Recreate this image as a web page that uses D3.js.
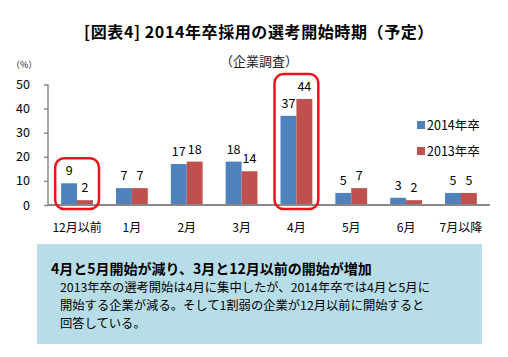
<!DOCTYPE html>
<html><head><meta charset="utf-8">
<script src="https://cdn.jsdelivr.net/npm/d3@7"></script>
<style>
body{margin:0;background:#fff;}
svg{display:block;font-family:"Noto Sans CJK JP","Noto Sans",sans-serif;}
</style></head>
<body>
<svg id="c" width="508" height="357"></svg>
<script>
const categories = ["12月以前","1月","2月","3月","4月","5月","6月","7月以降"];
const seriesNames = ["2014年卒","2013年卒"];
const values2014 = [9,7,17,18,37,5,3,5];
const values2013 = [2,7,18,14,44,7,2,5];
const yTicks = [0,10,20,30,40,50];
const highlighted = ["12月以前","4月"];
const titleText = "[図表4] 2014年卒採用の選考開始時期（予定）";
const subtitleText = "（企業調査）";
const unitText = "（%）";
const noteHeading = "4月と5月開始が減り、3月と12月以前の開始が増加";
const noteLines = ["2013年卒の選考開始は4月に集中したが、2014年卒では4月と5月に",
  "開始する企業が減る。そして1割弱の企業が12月以前に開始すると",
  "回答している。"];
const colors = ["#4f81bd","#c0504d"];

const svg = d3.select("#c");
const x0 = d3.scaleBand().domain(categories).range([48,490]).paddingInner(0.42).paddingOuter(0.24);
const x1 = d3.scaleBand().domain(seriesNames).range([0,x0.bandwidth()]);
const y = d3.scaleLinear().domain([0,50]).range([205,84.5]);

svg.append("text").attr("x",259).attr("y",38).attr("text-anchor","middle")
  .attr("font-size",16).attr("letter-spacing",0.6).attr("font-weight","bold").attr("fill","#000").text(titleText);
svg.append("text").attr("x",259).attr("y",66).attr("text-anchor","middle")
  .attr("font-size",13).attr("fill","#222").text(subtitleText);
svg.append("text").attr("x",11).attr("y",68)
  .attr("font-size",9).attr("fill","#222").text(unitText);

// y axis
const yAxis = svg.append("g").attr("transform","translate(48,0)")
  .call(d3.axisLeft(y).tickValues(yTicks).tickSize(4).tickPadding(14));
yAxis.selectAll("path,line").attr("stroke","#888").attr("stroke-width",1.5);
yAxis.select(".domain").attr("d","M0,"+y(50)+"V"+y(0));
yAxis.selectAll("text").attr("font-size",12.5).attr("fill","#000")
  .attr("font-family","'Noto Sans CJK JP',sans-serif");

const data = categories.map((c,i)=>({c, v:[values2014[i],values2013[i]]}));
const groups = svg.append("g").selectAll("g").data(data).join("g")
  .attr("transform",d=>`translate(${x0(d.c)},0)`);
groups.selectAll("rect").data(d=>d.v.map((v,j)=>({v,s:seriesNames[j],j}))).join("rect")
  .attr("x",d=>x1(d.s)).attr("width",x1.bandwidth())
  .attr("y",d=>y(d.v)).attr("height",d=>y(0)-y(d.v)).attr("fill",d=>colors[d.j]);
groups.selectAll("text").data(d=>d.v.map((v,j)=>({v,s:seriesNames[j],j}))).join("text")
  .attr("x",d=>x1(d.s)+x1.bandwidth()/2).attr("y",d=>y(d.v)-8)
  .attr("text-anchor","middle").attr("font-size",12.5).attr("fill","#000").text(d=>d.v);

// x axis
const xAxis = svg.append("g").attr("transform",`translate(0,${y(0)})`)
  .call(d3.axisBottom(x0).tickSize(0).tickPadding(18));
xAxis.select(".domain").attr("stroke","#888").attr("stroke-width",2).attr("d","M48,0H490");
xAxis.selectAll("text").attr("font-size",12).attr("fill","#000")
  .attr("font-family","'Noto Sans CJK JP',sans-serif");

// highlight boxes
highlighted.forEach(c=>{
  const i = categories.indexOf(c);
  const m = Math.max(values2014[i],values2013[i]);
  svg.append("rect").attr("x",x0(c)-6).attr("width",x0.bandwidth()+12)
    .attr("y",y(m)-25).attr("height",y(0)+4-(y(m)-25))
    .attr("rx",9).attr("fill","none").attr("stroke","#e8141a").attr("stroke-width",2.5);
});

// legend
const lg = svg.append("g").selectAll("g").data(seriesNames).join("g")
  .attr("transform",(d,i)=>`translate(417,${125+i*26})`);
lg.append("rect").attr("x",0).attr("y",-4).attr("width",8).attr("height",8).attr("fill",(d,i)=>colors[i]);
lg.append("text").attr("x",10).attr("y",4.5).attr("font-size",12.5).attr("fill","#000").text(d=>d);

// note box
svg.append("rect").attr("x",37).attr("y",244).attr("width",445).attr("height",100).attr("fill","#b7dde8");
svg.append("text").attr("x",51).attr("y",274).attr("font-size",14).attr("font-weight","bold")
  .attr("fill","#000").text(noteHeading);
noteLines.forEach((t,i)=>{
  svg.append("text").attr("x",60).attr("y",292+i*18).attr("font-size",12.3).attr("fill","#000").text(t);
});
</script>
</body></html>
